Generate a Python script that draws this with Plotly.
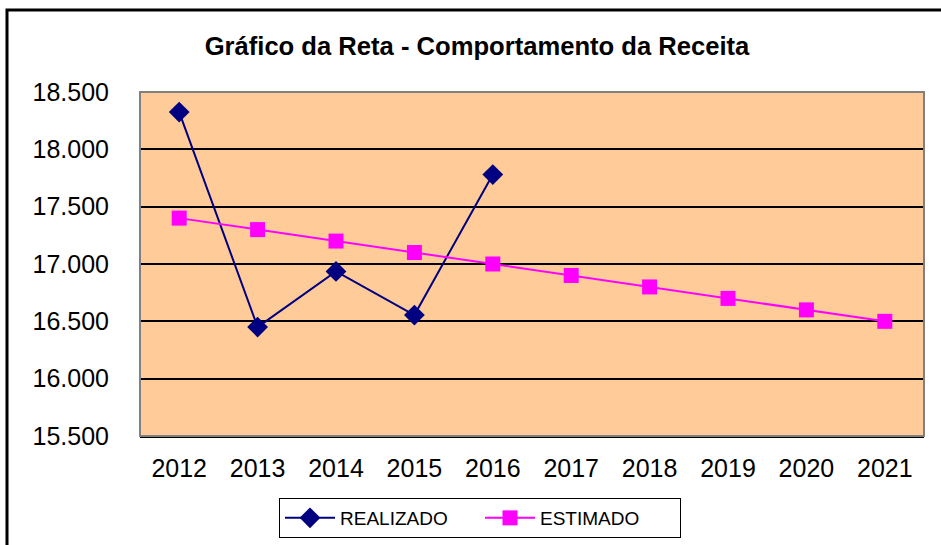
import plotly.graph_objects as go

anos = [2012, 2013, 2014, 2015, 2016, 2017, 2018, 2019, 2020, 2021]
realizado_anos = [2012, 2013, 2014, 2015, 2016]
realizado = [18325, 16450, 16935, 16555, 17780]
estimado = [17400, 17300, 17200, 17100, 17000, 16900, 16800, 16700, 16600, 16500]
y_ticks = [15500, 16000, 16500, 17000, 17500, 18000, 18500]

W, H = 941, 545
L, R, T, B = 140, 17, 92, 109
pw, ph = W - L - R, H - T - B

def px_x(x):
    return (x - L) / pw

def px_y(y):
    return (H - B - y) / ph

fig = go.Figure()
fig.add_trace(go.Scatter(
    x=realizado_anos, y=realizado, name="REALIZADO", mode="lines+markers",
    line=dict(color="#000080", width=2),
    marker=dict(symbol="diamond", size=16, color="#000080"),
))
fig.add_trace(go.Scatter(
    x=anos, y=estimado, name="ESTIMADO", mode="lines+markers",
    line=dict(color="#FF00FF", width=2),
    marker=dict(symbol="square", size=15, color="#FF00FF"),
))

font = "Liberation Sans, Arial, sans-serif"

# plot area border (gray)
fig.add_shape(type="rect", xref="paper", yref="paper", x0=0, x1=1, y0=0, y1=1,
              line=dict(color="#808080", width=2), layer="above")
# outer chart frame
fig.add_shape(type="rect", xref="paper", yref="paper",
              x0=px_x(7), x1=px_x(W + 20), y0=px_y(H + 20), y1=px_y(10),
              line=dict(color="black", width=3), layer="above")

fig.update_layout(
    width=W, height=H,
    margin=dict(l=L, r=R, t=T, b=B, autoexpand=False),
    paper_bgcolor="white",
    plot_bgcolor="#FFCC99",
    separators=",.",
    font=dict(family=font, color="black"),
    title=dict(text="<b>Gráfico da Reta - Comportamento da Receita</b>",
               x=477 / W, xanchor="center", y=1 - 46 / H, yanchor="middle",
               font=dict(size=25.6, family=font, color="black")),
    showlegend=True,
    legend=dict(orientation="h", xref="container", yref="container",
                x=480 / W, xanchor="center",
                y=1 - 498 / H, yanchor="top",
                bordercolor="black", borderwidth=1,
                font=dict(size=19, family=font), itemwidth=50,
                entrywidth=135, entrywidthmode="pixels",
                bgcolor="white"),
    xaxis=dict(range=[2011.5, 2021.5], tickvals=anos, showgrid=False,
               showline=True, linecolor="black", linewidth=2, automargin=False,
               ticks="", tickfont=dict(size=25, family=font),
               ticklabelstandoff=9, zeroline=False),
    yaxis=dict(range=[15500, 18500], tickvals=y_ticks, tickformat=",.0f",
               showgrid=True, gridcolor="black", gridwidth=2, automargin=False,
               showline=False, ticks="", zeroline=False,
               tickfont=dict(size=25, family=font), ticklabelstandoff=30),
)

fig.write_html("out.html", config={"displayModeBar": False},
               post_script="document.body.style.margin='0';")
